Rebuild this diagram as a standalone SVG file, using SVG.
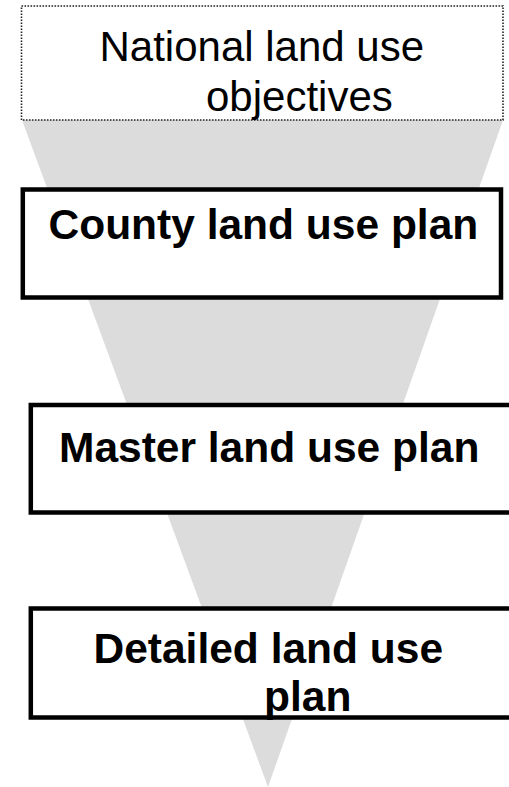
<svg xmlns="http://www.w3.org/2000/svg" width="509" height="787" viewBox="0 0 509 787">
  <style>
    .box { fill: #ffffff; stroke: #000000; stroke-width: 4.5; }
    .dotted { fill: #ffffff; stroke: #222222; stroke-width: 1.6; stroke-dasharray: 1.6 1.4; }
    .reg { font-family: "Liberation Sans", Arial, sans-serif; font-size: 42px; fill: #000000; }
    .bold { font-family: "Liberation Sans", Arial, sans-serif; font-size: 42.5px; font-weight: bold; fill: #000000; }
  </style>
  <rect x="0" y="0" width="509" height="787" fill="#ffffff"/>
  <g id="funnel">
    <polygon points="22,120 503,120 268,787" fill="#dcdcdc"/>
  </g>
  <g id="national">
    <rect class="dotted" x="21.5" y="6" width="481.5" height="114"/>
    <text class="reg" x="99.5" y="60.5">National land use</text>
    <text class="reg" x="206" y="110.5">objectives</text>
  </g>
  <g id="county">
    <rect class="box" x="22.8" y="189.5" width="478.2" height="108"/>
    <text class="bold" x="48.5" y="238.5">County land use plan</text>
  </g>
  <g id="master">
    <rect class="box" x="30.8" y="405" width="490" height="107.5"/>
    <text class="bold" x="59" y="461.5">Master land use plan</text>
  </g>
  <g id="detailed">
    <rect class="box" x="30.8" y="608.5" width="490" height="109"/>
    <text class="bold" x="93.5" y="662.5">Detailed land use</text>
    <text class="bold" x="264" y="711">plan</text>
  </g>
</svg>
